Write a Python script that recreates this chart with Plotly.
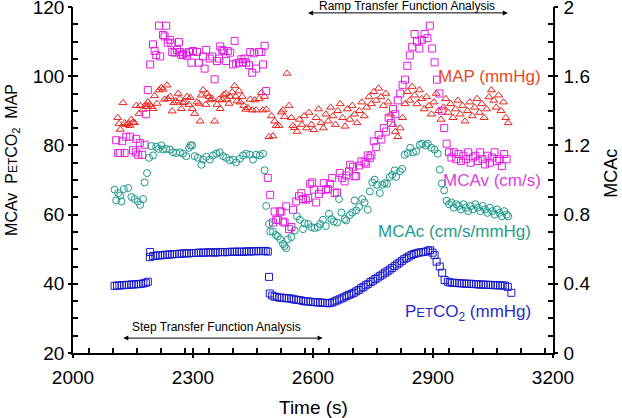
import plotly.graph_objects as go

# ---------------- data ----------------
map_t = [2112, 2115, 2118, 2125, 2129, 2133, 2137, 2142, 2146, 2150, 2154, 2158, 2165, 2168, 2175, 2182,
         2183, 2187, 2192, 2196, 2200, 2204, 2210, 2215, 2221, 2225, 2229, 2235, 2237, 2243, 2248, 2252,
         2257, 2263, 2267, 2271, 2275, 2279, 2285, 2290, 2293, 2298, 2304, 2310, 2315, 2318, 2321, 2325,
         2332, 2335, 2340, 2343, 2348, 2354, 2360, 2365, 2368, 2373, 2377, 2382, 2385, 2390, 2393, 2398,
         2404, 2407, 2410, 2415, 2418, 2423, 2427, 2432, 2437, 2443, 2448, 2454, 2458, 2465, 2471, 2475,
         2479, 2483, 2490, 2496, 2500, 2504, 2508, 2515, 2521, 2525, 2529, 2535, 2540, 2546, 2550, 2554,
         2560, 2566, 2572, 2578, 2584, 2590, 2596, 2602, 2608, 2614, 2620, 2626, 2632, 2638, 2644, 2650,
         2656, 2662, 2668, 2674, 2680, 2686, 2692, 2698, 2704, 2710, 2716, 2722, 2728, 2734, 2740, 2746,
         2752, 2758, 2764, 2770, 2776, 2782, 2788, 2794, 2800, 2806, 2812, 2818, 2824, 2830, 2836, 2842,
         2848, 2854, 2860, 2866, 2872, 2878, 2884, 2890, 2896, 2902, 2908, 2914, 2920, 2926, 2932, 2938,
         2944, 2950, 2956, 2962, 2968, 2974, 2980, 2986, 2992, 2998, 3004, 3010, 3016, 3022, 3028, 3034,
         3040, 3046, 3052, 3058, 3064, 3070, 3076, 3082, 3088]
map_v = [88.0, 86.3, 84.6, 92.3, 86.5, 86.0, 86.3, 85.7, 87.5, 86.7, 86.5, 91.5, 89.2, 91.5, 90.4, 91.8,
         91.2, 92.5, 91.8, 91.2, 90.6, 94.3, 92.1, 96.0, 96.7, 96.2, 93.3, 97.4, 93.5, 94.1, 89.9, 92.3,
         92.8, 95.0, 93.5, 90.6, 92.3, 92.5, 94.1, 91.8, 93.8, 90.6, 89.2, 92.5, 92.1, 87.0, 94.5, 96.0,
         91.8, 95.0, 94.1, 93.1, 93.5, 87.0, 91.8, 93.3, 90.6, 93.1, 94.7, 95.0, 93.3, 92.1, 94.1, 95.4,
         97.2, 94.1, 92.8, 95.7, 92.5, 94.1, 91.5, 90.4, 90.9, 93.3, 90.2, 93.1, 90.2, 93.5, 95.2, 90.2,
         94.1, 90.4, 82.5, 88.5, 82.7, 87.0, 85.7, 85.7, 89.6, 90.2, 88.3, 100.8, 91.5, 88.0, 85.7, 85.1,
         84.0, 87.5, 86.0, 88.5, 85.0, 89.5, 86.0, 84.5, 88.0, 90.5, 86.5, 85.0, 89.0, 87.0, 91.0, 88.5,
         86.0, 90.0, 92.0, 88.0, 85.5, 90.5, 87.5, 91.5, 89.0, 86.5, 90.0, 92.5, 88.5, 91.0, 94.0, 92.0,
         95.5, 93.0, 96.5, 94.0, 91.5, 95.0, 92.5, 89.0, 86.0, 84.0, 82.5, 85.0, 88.0, 92.0, 95.5, 93.0,
         97.0, 94.5, 92.0, 96.0, 93.5, 90.5, 94.0, 91.5, 89.0, 92.5, 95.0, 90.0, 87.5, 91.0, 93.5, 89.5,
         92.0, 88.0, 90.5, 93.0, 89.0, 91.5, 87.0, 90.0, 92.5, 88.5, 91.0, 93.5, 89.5, 92.0, 88.0, 90.5,
         94.0, 96.0, 93.0, 91.0, 94.5, 90.0, 92.5, 88.0, 86.5]

mcav_t = [2108, 2113, 2118, 2123, 2129, 2133, 2143, 2150, 2157, 2158, 2163, 2167, 2173, 2179, 2183, 2187,
          2193, 2200, 2204, 2208, 2215, 2218, 2225, 2229, 2233, 2237, 2242, 2246, 2248, 2254, 2260, 2265,
          2267, 2271, 2275, 2282, 2285, 2290, 2296, 2300, 2310, 2315, 2325, 2329, 2333, 2342, 2348, 2354,
          2360, 2365, 2368, 2373, 2377, 2383, 2387, 2393, 2400, 2404, 2408, 2415, 2421, 2425, 2429, 2433,
          2440, 2443, 2448, 2452, 2458, 2465, 2471, 2475, 2479, 2483, 2487, 2493, 2500, 2504, 2508, 2512,
          2517, 2521, 2525, 2529, 2533, 2540, 2546, 2550, 2558, 2565, 2571, 2575, 2582, 2588, 2593, 2598,
          2602, 2608, 2615, 2621, 2627, 2632, 2637, 2642, 2648, 2654, 2660, 2667, 2673, 2679, 2683, 2690,
          2693, 2700, 2704, 2708, 2715, 2721, 2729, 2733, 2737, 2742, 2746, 2752, 2758, 2764, 2771, 2777,
          2783, 2789, 2795, 2800, 2806, 2812, 2818, 2824, 2830, 2836, 2842, 2848, 2854, 2860, 2866, 2872,
          2879, 2886, 2892, 2898, 2904, 2910, 2916, 2922, 2928, 2934, 2940, 2946, 2952, 2958, 2964, 2970,
          2976, 2982, 2988, 2994, 3000, 3006, 3012, 3018, 3024, 3030, 3036, 3042, 3048, 3054, 3060, 3066,
          3072, 3078, 3084]
mcav_v = [81.5, 77.8, 77.8, 81.2, 77.8, 82.5, 82.5, 78.6, 78.0, 81.9, 77.3, 80.7, 77.3, 80.2, 89.0, 96.0,
          103.4, 109.2, 107.3, 106.1, 114.6, 105.7, 111.9, 111.5, 114.6, 109.7, 110.5, 109.5, 107.0, 106.8, 107.6, 109.9,
          107.0, 106.1, 106.3, 106.6, 105.9, 107.0, 103.9, 107.3, 107.0, 103.9, 105.7, 102.2, 107.6, 105.1, 105.7, 99.1,
          104.4, 105.1, 108.6, 107.6, 107.3, 104.4, 107.3, 106.8, 103.4, 110.2, 103.7, 103.9, 104.9, 104.1, 105.1, 103.9,
          103.2, 107.0, 101.0, 106.6, 102.2, 107.0, 107.0, 103.4, 108.8, 95.7, 70.6, 65.7, 57.7, 60.9, 58.5, 58.5,
          60.9, 60.9, 58.0, 57.7, 62.4, 55.8, 56.4, 61.4, 63.8, 65.3, 66.2, 64.5, 64.3, 64.8, 68.9, 69.3,
          67.2, 63.5, 66.0, 67.2, 69.1, 67.2, 67.4, 68.9, 70.6, 66.2, 66.4, 72.0, 70.6, 69.6, 71.3, 72.5,
          74.4, 73.8, 71.1, 71.1, 74.2, 75.4, 75.1, 74.7, 77.1, 76.4, 77.1, 81.2, 79.5, 83.0, 81.7, 85.0,
          84.0, 88.0, 86.5, 90.5, 89.0, 93.0, 95.0, 97.5, 99.0, 103.0, 106.0, 108.5, 112.2, 110.0, 108.0, 110.5,
          112.2, 111.0, 114.6, 108.0, 104.0, 99.0, 95.0, 90.0, 85.0, 80.5, 78.0, 76.5, 78.0, 76.0, 77.5, 75.5,
          77.0, 76.0, 78.0, 75.0, 76.5, 77.0, 75.5, 78.0, 76.0, 74.5, 77.0, 75.0, 76.5, 78.0, 75.5, 76.0,
          74.0, 77.5, 76.0]

mcac_t = [2104, 2108, 2113, 2118, 2121, 2127, 2138, 2146, 2154, 2162, 2168, 2175, 2179, 2185, 2190, 2196,
          2200, 2208, 2214, 2221, 2225, 2233, 2242, 2250, 2258, 2267, 2275, 2283, 2290, 2294, 2298, 2304,
          2312, 2321, 2325, 2333, 2342, 2350, 2358, 2367, 2375, 2383, 2392, 2400, 2408, 2417, 2425, 2433,
          2442, 2450, 2458, 2467, 2475, 2479, 2483, 2490, 2493, 2500, 2507, 2512, 2518, 2525, 2529, 2533,
          2537, 2546, 2554, 2560, 2567, 2575, 2579, 2588, 2596, 2604, 2612, 2618, 2625, 2632, 2640, 2646,
          2652, 2660, 2665, 2671, 2679, 2683, 2692, 2698, 2704, 2708, 2715, 2723, 2729, 2737, 2742, 2748,
          2754, 2760, 2767, 2773, 2779, 2785, 2792, 2798, 2804, 2808, 2817, 2823, 2829, 2837, 2843, 2850,
          2858, 2867, 2873, 2882, 2887, 2896, 2904, 2912, 2917, 2922, 2928, 2934, 2940, 2946, 2952, 2958,
          2964, 2970, 2976, 2982, 2988, 2994, 3000, 3006, 3012, 3018, 3024, 3030, 3036, 3042, 3048, 3054,
          3060, 3066, 3072, 3078, 3084, 3088]
mcac_v = [0.944, 0.882, 0.924, 0.910, 0.876, 0.948, 0.954, 0.902, 0.890, 0.876, 0.856, 0.890, 0.986, 1.040, 1.128, 1.196,
          1.142, 1.192, 1.180, 1.200, 1.176, 1.180, 1.176, 1.160, 1.156, 1.160, 1.152, 1.138, 1.186, 1.200, 1.200, 1.138,
          1.128, 1.088, 1.118, 1.134, 1.118, 1.142, 1.152, 1.160, 1.138, 1.128, 1.114, 1.118, 1.102, 1.122, 1.142, 1.152,
          1.146, 1.118, 1.146, 1.142, 1.152, 1.056, 0.850, 0.746, 0.702, 0.702, 0.682, 0.674, 0.658, 0.630, 0.618, 0.606,
          0.658, 0.670, 0.708, 0.790, 0.770, 0.716, 0.750, 0.746, 0.728, 0.722, 0.728, 0.746, 0.770, 0.734, 0.804, 0.774,
          0.760, 0.754, 0.890, 0.812, 0.774, 0.766, 0.798, 0.812, 0.882, 0.824, 0.844, 0.890, 0.870, 0.828, 0.934, 0.986,
          1.002, 0.972, 0.924, 0.972, 0.982, 0.978, 1.018, 1.030, 1.056, 1.018, 1.050, 1.064, 1.146, 1.156, 1.186, 1.160,
          1.166, 1.204, 1.210, 1.200, 1.210, 1.186, 1.176, 1.152, 1.060, 0.980, 0.940, 0.880, 0.860, 0.870, 0.840, 0.860,
          0.850, 0.830, 0.860, 0.840, 0.820, 0.850, 0.830, 0.860, 0.840, 0.820, 0.850, 0.830, 0.810, 0.840, 0.820, 0.800,
          0.830, 0.810, 0.790, 0.820, 0.800, 0.790]

petco2_t = [2104, 2110, 2116, 2122, 2128, 2134, 2140, 2146, 2152, 2158, 2164, 2170, 2176, 2182, 2187,
            2192, 2193, 2200, 2206, 2212, 2218, 2224, 2230, 2236, 2242, 2248, 2254, 2260, 2266, 2272, 2278,
            2284, 2290, 2296, 2302, 2308, 2314, 2320, 2326, 2332, 2338, 2344, 2350, 2356, 2362, 2368, 2374,
            2380, 2386, 2392, 2398, 2404, 2410, 2416, 2422, 2428, 2434, 2440, 2446, 2452, 2458, 2464, 2470,
            2476, 2482, 2487,
            2490, 2492, 2498, 2504, 2510, 2516, 2522, 2528, 2534, 2540, 2546, 2552, 2558, 2564, 2570, 2576,
            2582, 2588, 2594, 2600, 2606, 2612, 2618, 2624, 2630, 2636, 2642, 2648, 2654, 2660, 2666, 2672,
            2678, 2684, 2690, 2696, 2702, 2708, 2714, 2720, 2726, 2732, 2738, 2744, 2750, 2756, 2762, 2768,
            2774, 2780, 2786, 2792, 2798, 2804, 2810, 2816, 2822, 2828, 2834, 2840, 2846, 2852, 2858, 2864,
            2870, 2876, 2882, 2888, 2893, 2899, 2904, 2909, 2917, 2923, 2929, 2937, 2942, 2948, 2954, 2960,
            2966, 2972, 2978, 2984, 2990, 2996, 3002, 3008, 3014, 3020, 3026, 3032, 3038, 3044, 3050, 3056,
            3062, 3068, 3074, 3080, 3087, 3096]
petco2_v = [39.4, 39.5, 39.5, 39.6, 39.6, 39.7, 39.7, 39.8, 39.8, 39.9, 39.9, 40.0, 40.1, 40.3, 40.6,
            47.7, 49.2, 48.0, 48.1, 48.2, 48.2, 48.3, 48.4, 48.4, 48.5, 48.5, 48.6, 48.6, 48.7, 48.7, 48.8,
            48.8, 48.8, 48.9, 48.9, 48.9, 49.0, 49.0, 49.0, 49.0, 49.1, 49.1, 49.1, 49.0, 49.1, 49.2, 49.2,
            49.1, 49.2, 49.2, 49.3, 49.2, 49.3, 49.3, 49.2, 49.3, 49.4, 49.3, 49.4, 49.4, 49.4, 49.5, 49.4,
            49.5, 49.5, 49.3,
            42.0, 37.2, 36.6, 36.3, 36.2, 36.0, 36.0, 35.9, 35.8, 35.8, 35.7, 35.5, 35.4, 35.3, 35.2, 35.0,
            34.9, 34.9, 34.8, 34.7, 34.7, 34.6, 34.6, 34.5, 34.5, 34.4, 34.4, 34.6, 34.9, 35.2, 35.5, 35.8,
            36.1, 36.5, 36.8, 37.1, 37.4, 37.8, 38.2, 38.7, 39.1, 39.6, 40.0, 40.5, 40.9, 41.4, 41.8, 42.3,
            42.7, 43.2, 43.6, 44.1, 44.6, 45.1, 45.6, 46.1, 46.6, 47.1, 47.5, 47.9, 48.3, 48.6, 48.8, 49.0,
            49.1, 49.2, 49.3, 49.6, 49.7, 49.0, 48.3, 46.4, 45.0, 43.2, 41.1, 40.6, 40.4, 40.3, 40.3, 40.2,
            40.2, 40.1, 40.1, 40.0, 40.0, 40.0, 39.9, 39.9, 39.8, 39.8, 39.8, 39.7, 39.7, 39.7, 39.6, 39.6,
            39.6, 39.5, 39.5, 39.5, 39.1, 37.4]

# ---------------- figure ----------------
FONT = "Arial, Liberation Sans, sans-serif"
C_MAP, C_MCAV, C_MCAC, C_CO2 = "#e8231c", "#e01ee0", "#1a998a", "#1a1acc"

fig = go.Figure()
fig.add_trace(go.Scatter(x=map_t, y=map_v, mode="markers", name="MAP",
                         marker=dict(symbol="triangle-up-open", size=7, color=C_MAP, line=dict(width=1))))
fig.add_trace(go.Scatter(x=mcav_t, y=mcav_v, mode="markers", name="MCAv",
                         marker=dict(symbol="square-open", size=7, color=C_MCAV, line=dict(width=1))))
fig.add_trace(go.Scatter(x=mcac_t, y=mcac_v, mode="markers", name="MCAc", yaxis="y2",
                         marker=dict(symbol="circle-open", size=7, color=C_MCAC, line=dict(width=1))))
fig.add_trace(go.Scatter(x=petco2_t, y=petco2_v, mode="markers", name="PETCO2",
                         marker=dict(symbol="square-open", size=7, color=C_CO2, line=dict(width=1))))
# helper traces for outside halves of major ticks
fig.add_trace(go.Scatter(x=[None], y=[None], xaxis="x3", yaxis="y3", showlegend=False, hoverinfo="skip"))
fig.add_trace(go.Scatter(x=[None], y=[None], xaxis="x", yaxis="y4", showlegend=False, hoverinfo="skip"))

axis_common = dict(showgrid=False, zeroline=False, showline=True, linecolor="black", linewidth=1.5,
                   ticks="inside", ticklen=5, tickwidth=1.5, tickcolor="black", automargin=False,
                   ticklabeloverflow="allow",
                   tickfont=dict(family=FONT, size=19, color="black"))
helper = dict(showgrid=False, zeroline=False, showline=False, showticklabels=False, automargin=False,
              ticks="outside", ticklen=4, tickwidth=1.5, tickcolor="black")
fig.update_layout(
    template="none",
    width=622, height=418,
    margin=dict(l=73, r=69, t=7, b=65, autoexpand=False),
    paper_bgcolor="white", plot_bgcolor="white",
    showlegend=False,
    font=dict(family=FONT, color="black"),
    xaxis=dict(range=[2000, 3200], dtick=300, tick0=2000, ticklabelstandoff=6,
               minor=dict(dtick=60, ticks="inside", ticklen=5, tickwidth=1.5, tickcolor="black"),
               **axis_common),
    yaxis=dict(range=[20, 120], dtick=20, tick0=20, ticklabelstandoff=3,
               minor=dict(dtick=5, ticks="inside", ticklen=5, tickwidth=1.5, tickcolor="black"),
               **axis_common),
    yaxis2=dict(range=[0, 2], dtick=0.4, tick0=0, overlaying="y", side="right", anchor="x",
                ticklabelstandoff=5,
                minor=dict(dtick=0.1, ticks="inside", ticklen=5, tickwidth=1.5, tickcolor="black"),
                **axis_common),
    xaxis3=dict(range=[2000, 3200], dtick=300, tick0=2000, overlaying="x", anchor="y", side="bottom", **helper),
    yaxis3=dict(range=[20, 120], dtick=20, tick0=20, overlaying="y", anchor="x", side="left", **helper),
    yaxis4=dict(range=[0, 2], dtick=0.4, tick0=0, overlaying="y", anchor="x", side="right", **helper),
)

NB = "\u00a0"
ann = []
# axis titles
ann.append(dict(text="Time (s)", x=0.5, y=-0.158, xref="paper", yref="paper", showarrow=False,
                xanchor="center", yanchor="middle", font=dict(family=FONT, size=19)))
ann.append(dict(text="MCAv" + NB * 2 + "P<span style='font-size:12px'>ET</span>CO<sub>2</sub>" + NB * 2 + "MAP",
                x=-0.125, y=0.558, xref="paper", yref="paper", showarrow=False, textangle=-90,
                xanchor="center", yanchor="middle", font=dict(family=FONT, size=16)))
ann.append(dict(text="MCAc", x=1.12, y=0.52, xref="paper", yref="paper", showarrow=False, textangle=-90,
                xanchor="center", yanchor="middle", font=dict(family=FONT, size=18)))
# series labels
ann.append(dict(text="MAP (mmHg)", x=3174, y=100, xref="x", yref="y", showarrow=False,
                xanchor="right", yanchor="middle", font=dict(family=FONT, size=17, color="#e84a1e")))
ann.append(dict(text="MCAv (cm/s)", x=3174, y=69.8, xref="x", yref="y", showarrow=False,
                xanchor="right", yanchor="middle", font=dict(family=FONT, size=17, color="#e040dc")))
ann.append(dict(text="MCAc (cm/s/mmHg)", x=3149, y=55, xref="x", yref="y", showarrow=False,
                xanchor="right", yanchor="middle", font=dict(family=FONT, size=17, color="#1f9c8c")))
ann.append(dict(text="P<span style='font-size:13px'>ET</span>CO<sub>2</sub> (mmHg)", x=3149, y=31.5,
                xref="x", yref="y", showarrow=False,
                xanchor="right", yanchor="middle", font=dict(family=FONT, size=17, color="#2a2acc")))
# analysis windows
ann.append(dict(text="Ramp Transfer Function Analysis", x=2835, y=1.003, xref="x", yref="paper",
                showarrow=False, xanchor="center", yanchor="middle", font=dict(family=FONT, size=12)))
ann.append(dict(text="", x=3087, y=118.3, ax=2584, ay=118.3, xref="x", yref="y", axref="x", ayref="y",
                showarrow=True, arrowhead=2, arrowside="end+start", arrowsize=1, arrowwidth=1, arrowcolor="black"))
ann.append(dict(text="Step Transfer Function Analysis", x=2358, y=27.5, xref="x", yref="y",
                showarrow=False, xanchor="center", yanchor="middle", font=dict(family=FONT, size=12)))
ann.append(dict(text="", x=2624, y=24.3, ax=2122, ay=24.3, xref="x", yref="y", axref="x", ayref="y",
                showarrow=True, arrowhead=2, arrowside="end+start", arrowsize=1, arrowwidth=1, arrowcolor="black"))
fig.update_layout(annotations=ann)

fig.write_html("out.html", config={"displayModeBar": False},
               post_script="document.body.style.margin='0px';document.body.style.padding='0px';")
